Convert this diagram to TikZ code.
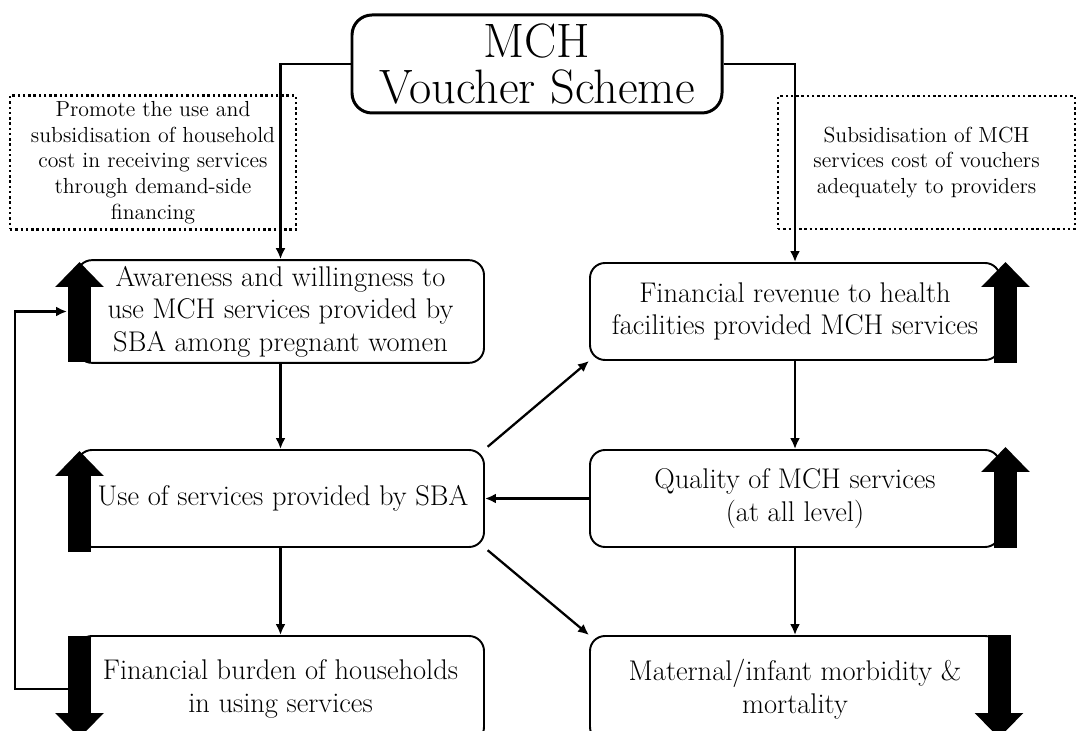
\documentclass[tikz,border=0pt]{standalone}
\usepackage{fontspec}
\usetikzlibrary{positioning, arrows, arrows.meta, calc}

\tikzset{
	box/.style={draw, rectangle, rounded corners=0.3cm, line width=1.1pt, text centered, align=center, font=\fontsize{16.2}{18.5}\selectfont},
	note/.style={draw, rectangle, line width=1.4pt, dash pattern=on 1.4pt off 1.6pt, text centered, align=center, font=\fontsize{12.4}{14.6}\selectfont},
	link/.style={-{Latex[length=0.22cm,width=0.2cm]}, line width=1.3pt},
	bigarrow/.style={line width=0.46cm, -{Triangle[width=0.94cm,length=0.5cm]}}
}

\begin{document}
\begin{tikzpicture}
		\clip (0,0) rectangle (21.54,-14.62);
		
		\node (title) at (10.74,-1.28) [draw, rectangle, rounded corners=0.4cm, line width=1.7pt, minimum height=1.96cm, 
		minimum width=7.4cm, text centered, align=center, font=\fontsize{27.5}{26}\selectfont]{MCH\\Voucher Scheme};
		
		\node (demand) at (3.06,-3.25) [note, minimum height=2.66cm, minimum width=5.72cm]{Promote the use and\\subsidisation of household\\cost in receiving services\\through demand-side\\financing};
		\node (supply) at (18.53,-3.25) [note, minimum height=2.66cm, minimum width=5.94cm]{Subsidisation of MCH\\services cost of vouchers\\adequately to providers};
		
		\node (aware) at (5.61,-6.23) [box, minimum height=1.94cm, minimum width=8.14cm]{Awareness and willingness to\\use MCH services provided by\\SBA among pregnant women};
		\node (use) at (5.61,-9.97) [box, minimum height=1.94cm, minimum width=8.14cm]{\hspace{0.1cm}Use of services provided by SBA};
		\node (burden) at (5.61,-13.78) [box, minimum height=2.12cm, minimum width=8.14cm]{Financial burden of households\\in using services};
		
		\node (revenue) at (15.9,-6.23) [box, minimum height=1.94cm, minimum width=8.2cm]{Financial revenue to health\\facilities provided MCH services};
		\node (quality) at (15.9,-9.97) [box, minimum height=1.94cm, minimum width=8.2cm]{Quality of MCH services\\(at all level)};
		\node (mortality) at (15.9,-13.78) [box, minimum height=2.12cm, minimum width=8.2cm]{Maternal/infant morbidity \&\\mortality};
		
		\draw[link] (title.west) -| (aware.north);
		\draw[link] (title.east) -| (revenue.north);
		\draw[link] (aware) -- (use);
		\draw[link] (use) -- (burden);
		\draw[link] (revenue) -- (quality);
		\draw[link] (quality) -- (mortality);
		\draw[link] (quality.west) -- (use.east);
		\draw[link, shorten <=2pt] (use.north east) -- (revenue.south west);
		\draw[link, shorten <=2pt] (use.south east) -- (mortality.north west);
		\draw[link, shorten >=0.18cm] (burden.west) -- ++(-1.22,0) |- (aware.west);
		
		% up / down indicators
		\draw[bigarrow] (1.59,-7.24) -- (1.59,-5.24);
		\draw[bigarrow] (1.59,-11.04) -- (1.59,-9.02);
		\draw[bigarrow] (1.59,-12.72) -- (1.59,-14.76);
		\draw[bigarrow] (20.11,-7.26) -- (20.11,-5.24);
		\draw[bigarrow] (20.11,-10.96) -- (20.11,-8.94);
		\draw[bigarrow] (19.98,-12.70) -- (19.98,-14.76);
		\end{tikzpicture}
\end{document}
